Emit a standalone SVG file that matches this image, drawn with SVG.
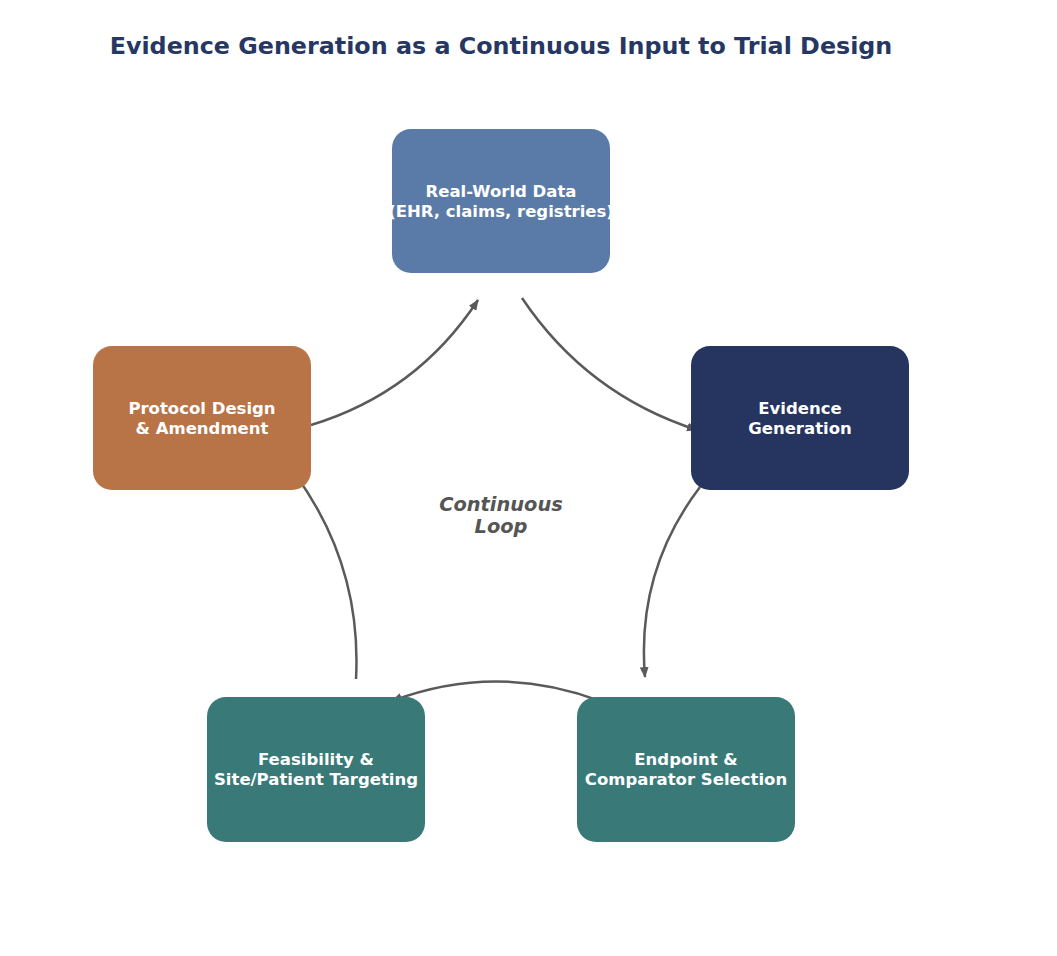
<svg xmlns="http://www.w3.org/2000/svg" width="1057" height="956" viewBox="0 0 1057 956">
<style>
.box{stroke:none}
.lbl{font-family:"DejaVu Sans",sans-serif;font-weight:bold;font-size:16.5px;fill:#ffffff;text-anchor:middle}
.title{font-family:"DejaVu Sans",sans-serif;font-weight:bold;font-size:23.8px;fill:#263763;text-anchor:middle}
.loop{font-family:"DejaVu Sans",sans-serif;font-weight:bold;font-style:italic;font-size:19.4px;fill:#555555;text-anchor:middle}
.conn{fill:none;stroke:#5a5a5a;stroke-width:2.5;marker-end:url(#ah)}
</style>
<defs>
<marker id="ah" viewBox="0 0 11 9" refX="10" refY="4.5" markerWidth="11" markerHeight="9" markerUnits="userSpaceOnUse" orient="auto">
<path d="M0,0 L11,4.5 L0,9 Z" fill="#5a5a5a"/>
</marker>
</defs>
<rect width="1057" height="956" fill="#ffffff"/>
<text class="title" x="501" y="54">Evidence Generation as a Continuous Input to Trial Design</text>
<g id="connectors">
<path class="conn" d="M311,425 Q417,393 478,300"/>
<path class="conn" d="M522,298 Q586.6,394.4 697,430"/>
<path class="conn" d="M700,487 Q636,571.4 645,677"/>
<path class="conn" d="M600,701 Q496,662 392,701"/>
<path class="conn" d="M356,679 Q362,565.7 295,474"/>
</g>
<g id="rwd">
<rect class="box" x="392" y="129" width="218" height="144" rx="19" fill="#5a7ba8"/>
<text class="lbl" x="501" y="197">Real-World Data</text>
<text class="lbl" x="501" y="217">(EHR, claims, registries)</text>
</g>
<g id="evidence">
<rect class="box" x="691" y="346" width="218" height="144" rx="19" fill="#253560"/>
<text class="lbl" x="800" y="414">Evidence</text>
<text class="lbl" x="800" y="434">Generation</text>
</g>
<g id="endpoint">
<rect class="box" x="577" y="697" width="218" height="145" rx="19" fill="#397a79"/>
<text class="lbl" x="686" y="765">Endpoint &amp;</text>
<text class="lbl" x="686" y="785">Comparator Selection</text>
</g>
<g id="feasibility">
<rect class="box" x="207" y="697" width="218" height="145" rx="19" fill="#397a79"/>
<text class="lbl" x="316" y="765">Feasibility &amp;</text>
<text class="lbl" x="316" y="785">Site/Patient Targeting</text>
</g>
<g id="protocol">
<rect class="box" x="93" y="346" width="218" height="144" rx="19" fill="#b87447"/>
<text class="lbl" x="202" y="414">Protocol Design</text>
<text class="lbl" x="202" y="434">&amp; Amendment</text>
</g>
<g id="center-label">
<text class="loop" x="501" y="511">Continuous</text>
<text class="loop" x="501" y="533">Loop</text>
</g>
</svg>
